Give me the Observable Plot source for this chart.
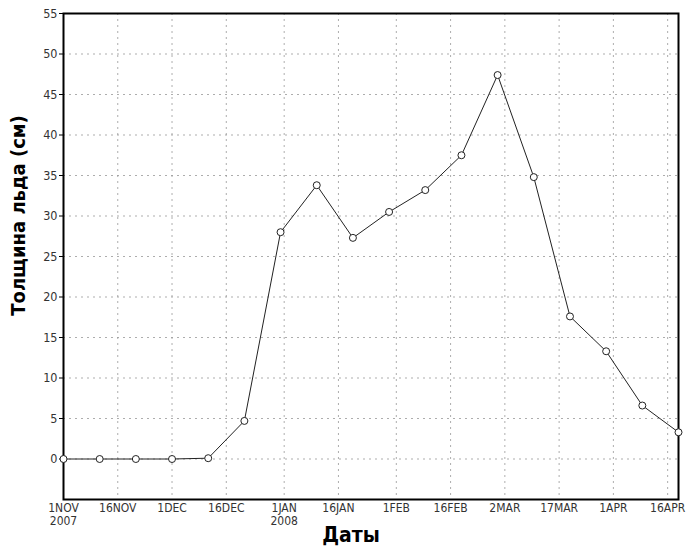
<!DOCTYPE html>
<html>
<head>
<meta charset="utf-8">
<script src="https://cdn.jsdelivr.net/npm/d3@7"></script>
<script src="https://cdn.jsdelivr.net/npm/@observablehq/plot@0.6"></script>
<style>
  html, body { margin: 0; padding: 0; background: #fff; }
  #chart svg { display: block; }
</style>
</head>
<body>
<div id="chart"></div>
<script>
// Measurement dates (every 10 days) and ice thickness (cm)
const dates = ["2007-11-01","2007-11-11","2007-11-21","2007-12-01","2007-12-11","2007-12-21",
               "2007-12-31","2008-01-10","2008-01-20","2008-01-30","2008-02-09","2008-02-19",
               "2008-02-29","2008-03-10","2008-03-20","2008-03-30","2008-04-09","2008-04-19"];
const thickness = [0, 0, 0, 0, 0.1, 4.7, 28.0, 33.8, 27.3, 30.5, 33.2, 37.5, 47.4, 34.8, 17.6, 13.3, 6.6, 3.3];

// Axis ticks
const xTickDates = ["2007-11-01","2007-11-16","2007-12-01","2007-12-16","2008-01-01","2008-01-16",
                    "2008-02-01","2008-02-16","2008-03-02","2008-03-17","2008-04-01","2008-04-16"];
const xTickLabels = ["1NOV\n2007","16NOV","1DEC","16DEC","1JAN\n2008","16JAN",
                     "1FEB","16FEB","2MAR","17MAR","1APR","16APR"];
const yTicks = [0, 5, 10, 15, 20, 25, 30, 35, 40, 45, 50, 55];
const yLabel = "Толщина льда (см)";
const xLabel = "Даты";

const parse = d3.utcParse("%Y-%m-%d");
const data = dates.map((d, i) => ({date: parse(d), value: thickness[i]}));
const xTicks = xTickDates.map(parse);
const labelByTime = new Map(xTicks.map((d, i) => [+d, xTickLabels[i]]));

const FONT = "'DejaVu Sans Condensed', 'Liberation Sans', sans-serif";

const chart = Plot.plot({
  width: 686,
  height: 547,
  marginLeft: 63,
  marginRight: 8,
  marginTop: 13,
  marginBottom: 48,
  style: {fontFamily: FONT, background: "#fff"},
  x: {type: "utc", domain: [parse("2007-11-01"), parse("2008-04-19")]},
  y: {domain: [-5, 55]},
  marks: [
    Plot.gridX(xTicks, {stroke: "#999", strokeOpacity: 0.8, strokeDasharray: "2,4"}),
    Plot.gridY(yTicks, {stroke: "#999", strokeOpacity: 0.8, strokeDasharray: "2,4"}),
    Plot.axisY(yTicks, {tickSize: 4, tickPadding: 2, fontSize: 12.5, color: "#333", label: null, stroke: "#000"}),
    Plot.axisX(xTicks, {tickSize: 0, tickPadding: 3, fontSize: 12, color: "#333", label: null,
      tickFormat: d => labelByTime.get(+d), lineHeight: 1.1}),
    Plot.frame({stroke: "#000", strokeWidth: 2}),
    Plot.line(data, {x: "date", y: "value", stroke: "#222", strokeWidth: 1}),
    Plot.dot(data, {x: "date", y: "value", r: 3.5, fill: "#fff", stroke: "#222", strokeWidth: 1}),
    Plot.text([yLabel], {frameAnchor: "left", textAnchor: "middle", dx: -45, dy: -41, rotate: -90,
      fontSize: 20, fontWeight: "bold", fill: "#000"}),
    Plot.text([xLabel], {frameAnchor: "bottom", textAnchor: "middle", lineAnchor: "middle", dx: -20, dy: 36,
      fontSize: 21, fontWeight: "bold", fill: "#000"})
  ]
});
document.getElementById("chart").appendChild(chart);
</script>
</body>
</html>
